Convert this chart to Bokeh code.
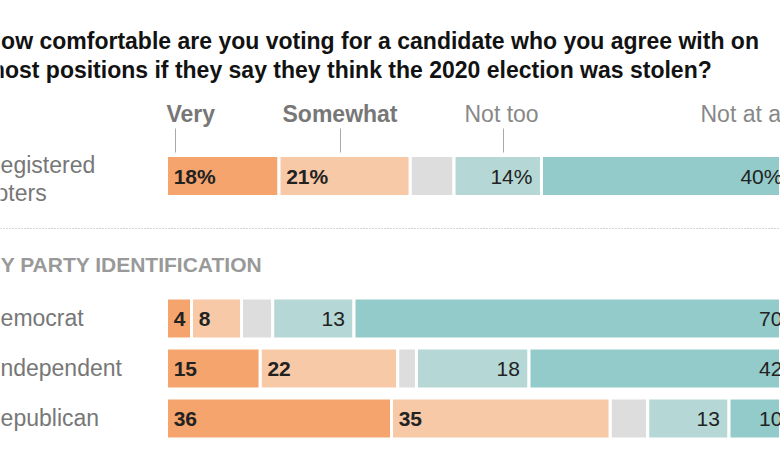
from bokeh.plotting import figure
from bokeh.models import Range1d, ColumnDataSource
from bokeh.core.properties import value
from bokeh.embed import file_html
from bokeh.resources import INLINE

# ---------------- data ----------------
title_lines = ["How comfortable are you voting for a candidate who you agree with on",
               "most positions if they say they think the 2020 election was stolen?"]
groups = ["Registered voters", "Democrat", "Independent", "Republican"]
responses = ["Very", "Somewhat", "No answer", "Not too", "Not at all"]
very = [18, 4, 15, 36]
somewhat = [21, 8, 22, 35]
no_answer = [7, 5, 3, 6]
not_too = [14, 13, 18, 13]
not_at_all = [40, 70, 42, 10]
section_label = "BY PARTY IDENTIFICATION"

# ---------------- layout / style ----------------
W, H = 780, 470
X0 = 166.0          # pixel where 0% sits
PX = 6.25           # pixels per percentage point
def px2x(px):
    return (px - X0) / PX

row_y = [175.5, 318, 368, 418]
bar_h = 41
colors = ["#f4a46c", "#f7c9a7", "#dddddd", "#b5d7d5", "#92cbc9"]
FONT = value("Liberation Sans")

p = figure(width=W, height=H, output_backend="svg", toolbar_location=None,
           x_range=Range1d(px2x(0), px2x(W)), y_range=Range1d(H, 0),
           x_axis_location=None, y_axis_location=None, min_border=0,
           outline_line_color=None, background_fill_color="white",
           border_fill_color="white")
p.grid.visible = False
p.styles = {"position": "absolute", "left": "0px", "top": "0px"}

series = [very, somewhat, no_answer, not_too, not_at_all]
n = len(groups)
starts = [0.0] * n
for k, vals in enumerate(series):
    lefts = starts[:]
    rights = [lefts[i] + vals[i] for i in range(n)]
    src = ColumnDataSource(dict(y=row_y, left=lefts, right=rights))
    p.hbar(y="y", left="left", right="right", height=bar_h, source=src,
           fill_color=colors[k], line_color="white", line_width=3)
    # value labels
    if k in (0, 1):
        txt = [f"{v}%" if i == 0 else f"{v}" for i, v in enumerate(vals)]
        p.text(x=[l + 1.15 for l in lefts], y=row_y, text=txt,
               text_font=FONT, text_font_style="bold", text_font_size="21px",
               text_color="#222222", text_align="left", text_baseline="alphabetic")
    elif k in (3, 4):
        txt = [f"{v}%" if i == 0 else f"{v}" for i, v in enumerate(vals)]
        p.text(x=[r - 1.45 for r in rights], y=row_y, text=txt,
               text_font=FONT, text_font_size="21px",
               text_color="#222222", text_align="right", text_baseline="alphabetic")
    starts = rights

# title
for i, line in enumerate(title_lines):
    p.text(x=[px2x(-16)], y=[40 + 29 * i], text=[line], text_font=FONT,
           text_font_style="bold", text_font_size="23px", text_color="#121212",
           text_baseline="alphabetic")

# response headers
hdr_x = [px2x(166), px2x(282), px2x(464), px2x(700)]
hdr_bold = [True, True, False, False]
tick_x = [px2x(175), px2x(340), px2x(503), px2x(800)]
for i, r in enumerate(responses[:2] + responses[3:]):
    p.text(x=[hdr_x[i]], y=[113], text=[r], text_font=FONT,
           text_font_style="bold" if hdr_bold[i] else "normal",
           text_font_size="23px", text_color="#777777" if hdr_bold[i] else "#888888",
           text_baseline="alphabetic")
p.segment(x0=tick_x, x1=tick_x, y0=[128] * 4, y1=[152] * 4,
          line_color="#aaaaaa", line_width=1)

# row labels
p.text(x=[px2x(-16.5)] * 2, y=[164, 192], text=["Registered", "voters"], text_font=FONT,
       text_font_size="23px", text_color="#777777", text_baseline="alphabetic")
p.text(x=[px2x(-16.5), px2x(-6.5), px2x(-16.5)], y=[y - 1 for y in row_y[1:]],
       text=groups[1:], text_font=FONT, text_font_size="23px",
       text_color="#777777", text_baseline="alphabetic")

# separator + section label
p.segment(x0=[px2x(0)], x1=[px2x(W)], y0=[228], y1=[228], line_color="#aaaaaa",
          line_width=1, line_dash="1 2")
p.text(x=[px2x(-15)], y=[264], text=[section_label], text_font=FONT,
       text_font_style="bold", text_font_size="21px", text_color="#999999",
       text_baseline="alphabetic")

open("out.html", "w").write(file_html(p, INLINE))
